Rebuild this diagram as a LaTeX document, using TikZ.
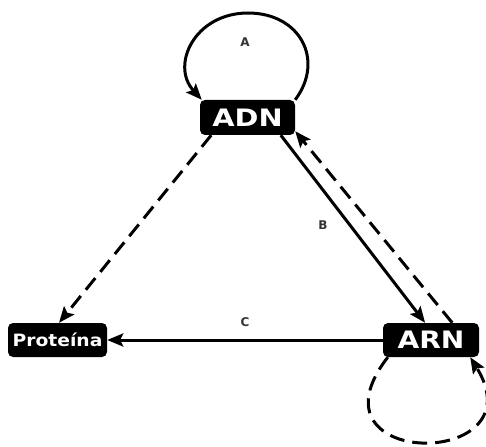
\documentclass[tikz,border=0pt]{standalone}
\usepackage{fontspec}
\setmainfont{DejaVu Sans}
\usetikzlibrary{arrows.meta}
\tikzset{
  mol/.style={fill=black, rounded corners=5pt, text=white, inner sep=0pt, font=\bfseries},
  conn/.style={line width=3pt, -{Stealth[length=16pt,width=13pt,inset=3pt]}},
  dsh/.style={dash pattern=on 15pt off 8pt},
  lbl/.style={font=\bfseries\fontsize{12}{14}\selectfont, text=black!80}
}
\begin{document}
\begin{tikzpicture}[x=1pt,y=-1pt]
\useasboundingbox (0,0) rectangle (486,446);
\node[mol, minimum width=95pt, minimum height=35pt] (adn) at (247.5,117.5)
  {\fontsize{24}{26}\selectfont\scalebox{1.2}[1]{ADN}};
\node[mol, minimum width=96pt, minimum height=34pt] (arn) at (431,340)
  {\fontsize{24}{26}\selectfont\scalebox{1.17}[1]{ARN}};
\node[mol, minimum width=99pt, minimum height=34pt] (prot) at (57.5,340)
  {\fontsize{17}{19}\selectfont\scalebox{1.1}[1]{Proteína}};
% loop A
\draw[conn] (adn.north east) .. controls (325,60) and (300,13) .. (248,13)
   .. controls (195,13) and (170,65) .. ([xshift=2pt]adn.north west);
\node[lbl] (la) at (245,42) {A};
% B arrows
\draw[conn] (adn.-28) -- (arn.109);
\draw[conn, dsh] (arn.39) -- (adn.-16);
\node[lbl] (lb) at (323,225) {B};
% dashed ADN -> Proteina
\draw[conn, dsh] (adn.206) -- (prot.85);
% C
\draw[conn] (arn.west) -- (prot.east);
\node[lbl] (lc) at (245,322) {C};
% loop under ARN
\begin{scope}
\clip (0,0) rectangle (486,446);
\draw[conn, dsh] ([xshift=5pt]arn.south west) .. controls (300,470) and (540,470) .. ([xshift=-9pt]arn.south east);
\end{scope}
\end{tikzpicture}
\end{document}
